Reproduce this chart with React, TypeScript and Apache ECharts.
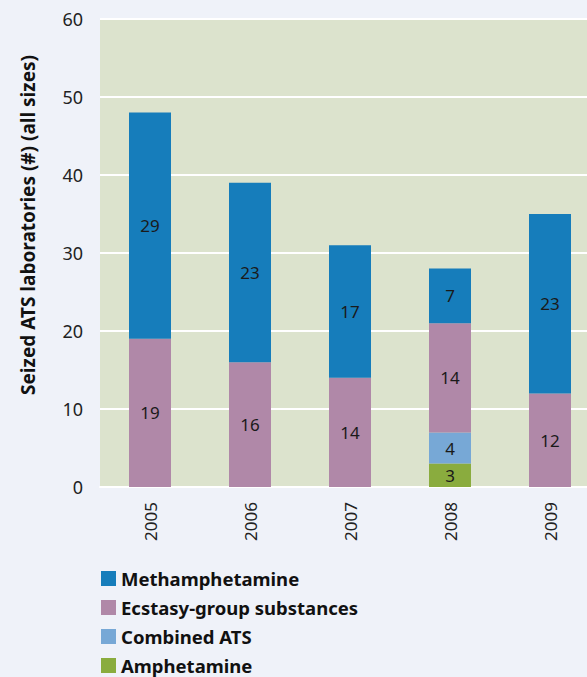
import React, { useEffect, useRef } from "react";
import * as echarts from "echarts";

const years = ["2005", "2006", "2007", "2008", "2009"];
const methamphetamine = [29, 23, 17, 7, 23];
const ecstasy = [19, 16, 14, 14, 12];
const combinedATS = [0, 0, 0, 4, 0];
const amphetamine = [0, 0, 0, 3, 0];
const yTicks = [0, 10, 20, 30, 40, 50, 60];
const legendNames = ["Methamphetamine", "Ecstasy-group substances", "Combined ATS", "Amphetamine"];

const FONT = "'Noto Sans', 'Open Sans', sans-serif";

export default function App() {
  const ref = useRef<HTMLDivElement>(null);
  useEffect(() => {
    if (!ref.current) return;
    const chart = echarts.init(ref.current, null, { renderer: "svg" });
    const label = {
      show: true,
      position: "inside",
      color: "#1a1a1a",
      fontSize: 17,
      fontFamily: FONT,
      formatter: (p: any) => (p.value ? String(p.value) : ""),
    };
    const mk = (name: string, data: number[], color: string) => ({
      name,
      type: "bar",
      stack: "total",
      data,
      barWidth: 42,
      itemStyle: { color },
      label,
    });
    const legends = legendNames.map((n, i) => ({
      orient: "vertical",
      left: 98,
      top: 566 + i * 29,
      itemWidth: 15,
      itemHeight: 15,
      icon: "rect",
      padding: 3,
      data: [n],
      textStyle: { fontSize: 18.5, fontWeight: "bold", color: "#111", fontFamily: FONT },
    }));
    chart.setOption({
      animation: false,
      backgroundColor: "#eff2f9",
      textStyle: { fontFamily: FONT },
      grid: {
        left: 100,
        width: 500,
        top: 19,
        height: 468,
        show: true,
        backgroundColor: "#dce3cd",
        borderWidth: 0,
        outerBoundsMode: "none",
        containLabel: false,
      },
      legend: legends,
      graphic: [
        {
          type: "text",
          x: 28,
          y: 225,
          rotation: Math.PI / 2,
          style: {
            text: "Seized ATS laboratories (#) (all sizes)",
            fontSize: 19,
            fontWeight: "bold",
            fill: "#111",
            fontFamily: FONT,
            align: "center",
            verticalAlign: "middle",
          },
        },
      ],
      xAxis: {
        type: "category",
        data: years,
        axisLine: { show: true, lineStyle: { color: "#ffffff", width: 2 } },
        axisTick: { show: false },
        axisLabel: { rotate: 90, fontSize: 17, color: "#222", margin: 15, fontFamily: FONT },
      },
      yAxis: {
        type: "value",
        min: yTicks[0],
        max: yTicks[yTicks.length - 1],
        interval: 10,
        axisLine: { show: false },
        axisTick: { show: false },
        axisLabel: { fontSize: 18, color: "#222", margin: 17, fontFamily: FONT },
        splitLine: { lineStyle: { color: "#ffffff", width: 2 } },
      },
      series: [
        mk("Amphetamine", amphetamine, "#8aac3e"),
        mk("Combined ATS", combinedATS, "#77a8d6"),
        mk("Ecstasy-group substances", ecstasy, "#b088a8"),
        mk("Methamphetamine", methamphetamine, "#167dbb"),
      ],
    });
    return () => chart.dispose();
  }, []);
  return <div ref={ref} style={{ width: 587, height: 677, position: "fixed", left: 0, top: 0 }} />;
}
